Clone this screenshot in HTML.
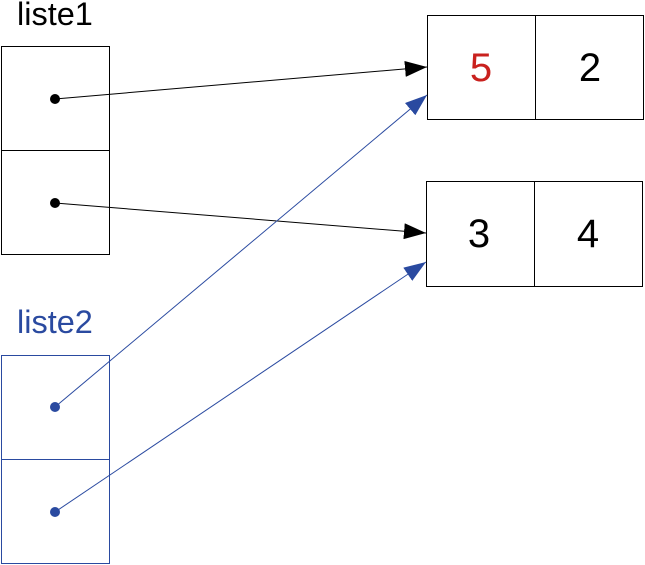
<!DOCTYPE html>
<html><head><meta charset="utf-8"><style>
html,body{margin:0;padding:0;background:#fff;}
svg{display:block;}
text{font-family:"Liberation Sans",sans-serif;}
</style></head><body>
<svg width="645" height="565" viewBox="0 0 645 565">
<defs>
<marker id="ab" markerWidth="22" markerHeight="16" refX="22" refY="8" orient="auto" markerUnits="userSpaceOnUse"><path d="M0,0 L22,8 L0,16 z" fill="#000"/></marker>
<marker id="au" markerWidth="22" markerHeight="16" refX="22" refY="8" orient="auto" markerUnits="userSpaceOnUse"><path d="M0,0 L22,8 L0,16 z" fill="#2a4aa0"/></marker>
</defs>
<text x="17" y="25" font-size="32.5" fill="#000">liste1</text>
<g fill="none" stroke="#000" stroke-width="1">
<rect x="1.5" y="46.5" width="108" height="104"/>
<rect x="1.5" y="150.5" width="108" height="104"/>
</g>
<text x="17" y="333" font-size="32.5" fill="#2a4aa0">liste2</text>
<g fill="none" stroke="#2a4aa0" stroke-width="1">
<rect x="1.5" y="355.5" width="108" height="104"/>
<rect x="1.5" y="459.5" width="108" height="104"/>
</g>
<g fill="none" stroke="#000" stroke-width="1">
<rect x="427.5" y="15.5" width="216" height="104"/>
<line x1="535.5" y1="15" x2="535.5" y2="120"/>
</g>
<text x="481" y="81" font-size="40" fill="#c9211e" text-anchor="middle">5</text>
<text x="590" y="81" font-size="40" fill="#000" text-anchor="middle">2</text>
<g fill="none" stroke="#000" stroke-width="1">
<rect x="426.5" y="181.5" width="216" height="105"/>
<line x1="534.5" y1="181" x2="534.5" y2="287"/>
</g>
<text x="479" y="247" font-size="40" fill="#000" text-anchor="middle">3</text>
<text x="588" y="247" font-size="40" fill="#000" text-anchor="middle">4</text>
<g stroke="#000" stroke-width="1">
<line x1="55" y1="99" x2="427" y2="67" marker-end="url(#ab)"/>
<line x1="55" y1="203" x2="426" y2="233" marker-end="url(#ab)"/>
</g>
<g stroke="#2a4aa0" stroke-width="1">
<line x1="55" y1="407" x2="427" y2="95" marker-end="url(#au)"/>
<line x1="55" y1="512" x2="426" y2="262" marker-end="url(#au)"/>
</g>
<circle cx="55" cy="99" r="5" fill="#000"/>
<circle cx="55" cy="203" r="5" fill="#000"/>
<circle cx="55" cy="407" r="5" fill="#2a4aa0"/>
<circle cx="55" cy="512" r="5" fill="#2a4aa0"/>
</svg>
</body></html>
